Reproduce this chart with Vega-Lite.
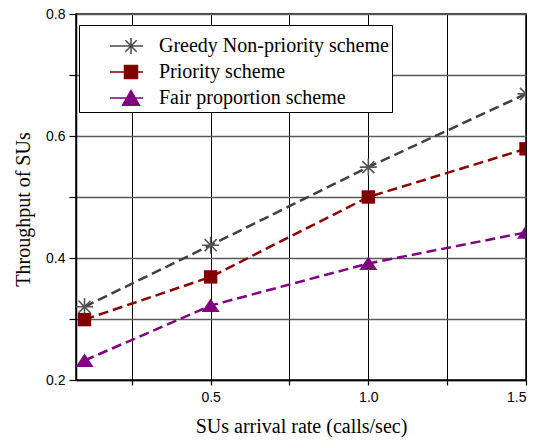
{
  "$schema": "https://vega.github.io/schema/vega-lite/v6.json",
  "width": 450,
  "height": 366,
  "autosize": {"type": "none"},
  "padding": {"left": 76, "top": 14, "right": 13, "bottom": 63},
  "background": "white",
  "data": {
    "values": [
      {"rate": 0.1, "throughput": 0.32, "series": "Greedy Non-priority scheme"},
      {"rate": 0.5, "throughput": 0.421, "series": "Greedy Non-priority scheme"},
      {"rate": 1.0, "throughput": 0.549, "series": "Greedy Non-priority scheme"},
      {"rate": 1.5, "throughput": 0.669, "series": "Greedy Non-priority scheme"},
      {"rate": 0.1, "throughput": 0.299, "series": "Priority scheme"},
      {"rate": 0.5, "throughput": 0.369, "series": "Priority scheme"},
      {"rate": 1.0, "throughput": 0.5, "series": "Priority scheme"},
      {"rate": 1.5, "throughput": 0.579, "series": "Priority scheme"},
      {"rate": 0.1, "throughput": 0.232, "series": "Fair proportion scheme"},
      {"rate": 0.5, "throughput": 0.322, "series": "Fair proportion scheme"},
      {"rate": 1.0, "throughput": 0.391, "series": "Fair proportion scheme"},
      {"rate": 1.5, "throughput": 0.442, "series": "Fair proportion scheme"}
    ]
  },
  "encoding": {
    "x": {
      "field": "rate", "type": "quantitative",
      "scale": {"domain": [0.073, 1.5], "nice": false, "zero": false},
      "axis": {
        "title": "SUs arrival rate (calls/sec)",
        "values": [0.25, 0.5, 0.75, 1.0, 1.25, 1.5],
        "labelExpr": "(abs(datum.value - 0.5) < 0.001 || abs(datum.value - 1) < 0.001 || abs(datum.value - 1.5) < 0.001) ? format(datum.value, '.1f') : ''",
        "grid": true, "gridColor": "#000000", "gridWidth": 1, "gridOpacity": 1,
        "tickSize": 5, "labelPadding": 5, "titlePadding": 12
      }
    },
    "y": {
      "field": "throughput", "type": "quantitative",
      "scale": {"domain": [0.2, 0.8], "nice": false, "zero": false},
      "axis": {
        "title": "Throughput of SUs",
        "values": [0.2, 0.3, 0.4, 0.5, 0.6, 0.7, 0.8],
        "labelExpr": "indexof(['0.2','0.4','0.6','0.8'], format(datum.value, '.1f')) >= 0 ? format(datum.value, '.1f') : ''",
        "grid": true, "gridColor": "#5a5a5a", "gridWidth": 1.5, "gridOpacity": 1,
        "tickSize": 7, "labelPadding": 4, "titlePadding": 12, "titleY": 195
      }
    }
  },
  "layer": [
    {
      "transform": [{"filter": "datum.series === 'Greedy Non-priority scheme'"}],
      "mark": {"type": "line", "strokeDash": [10, 5], "strokeWidth": 2.5, "clip": true, "color": "#404040"}
    },
    {
      "transform": [{"filter": "datum.series === 'Priority scheme'"}],
      "mark": {"type": "line", "strokeDash": [10, 5], "strokeWidth": 2.5, "clip": true, "color": "#8b0000"}
    },
    {
      "transform": [{"filter": "datum.series === 'Fair proportion scheme'"}],
      "mark": {"type": "line", "strokeDash": [10, 5], "strokeWidth": 2.5, "clip": true, "color": "#800080"}
    },
    {
      "transform": [{"filter": "datum.series === 'Greedy Non-priority scheme'"}],
      "mark": {"type": "point", "shape": "M-1,0H1M0,-1V1M-0.707,-0.707L0.707,0.707M-0.707,0.707L0.707,-0.707", "size": 289, "filled": false, "stroke": "#555555", "strokeWidth": 1.6, "opacity": 1, "clip": true}
    },
    {
      "transform": [{"filter": "datum.series === 'Priority scheme'"}],
      "mark": {"type": "point", "shape": "square", "size": 180, "filled": true, "color": "#800000", "opacity": 1, "clip": true}
    },
    {
      "transform": [{"filter": "datum.series === 'Fair proportion scheme'"}],
      "mark": {"type": "point", "shape": "M-1,0.72L1,0.72L0,-0.78Z", "size": 324, "filled": true, "color": "#800080", "opacity": 1, "clip": true}
    },
    {
      "transform": [{"filter": "datum.rate > 100"}],
      "mark": {"type": "point", "strokeWidth": 1.5, "opacity": 1},
      "encoding": {
        "fill": {
          "field": "series", "type": "nominal",
          "scale": {
            "domain": ["Greedy Non-priority scheme", "Priority scheme", "Fair proportion scheme"],
            "range": ["transparent", "#800000", "#800080"]
          },
          "legend": {"orient": "none", "legendX": 3, "legendY": 11, "title": " "}
        },
        "stroke": {
          "field": "series", "type": "nominal",
          "scale": {
            "domain": ["Greedy Non-priority scheme", "Priority scheme", "Fair proportion scheme"],
            "range": ["#4a4a4a", "#800000", "#800080"]
          },
          "legend": {"orient": "none", "legendX": 3, "legendY": 11, "title": " "}
        },
        "shape": {
          "field": "series", "type": "nominal",
          "scale": {
            "domain": ["Greedy Non-priority scheme", "Priority scheme", "Fair proportion scheme"],
            "range": [
              "M2.25,0H6.375M4.875,-1V1M3.875,0H5.875M4.168,-0.707L5.582,0.707M4.168,0.707L5.582,-0.707",
              "M2.25,0H6.375M4.0625,-0.8125H5.6875V0.8125H4.0625Z",
              "M2.25,0H6.375M3.815,0.9L5.935,0.9L4.875,-0.95Z"
            ]
          },
          "legend": {"orient": "none", "legendX": 3, "legendY": 11, "title": " "}
        }
      }
    }
  ],
  "config": {
    "view": {"stroke": "#000000", "strokeWidth": 1.5},
    "axis": {
      "domainColor": "#000000", "domainWidth": 1.5,
      "tickColor": "#000000", "tickWidth": 1.2,
      "labelFont": "Liberation Sans", "labelFontSize": 14, "labelColor": "#000000",
      "titleFont": "Liberation Serif", "titleFontSize": 20, "titleFontWeight": "normal", "titleColor": "#000000"
    },
    "legend": {
      "strokeColor": "#000000", "fillColor": "#ffffff", "padding": 3,
      "labelFont": "Liberation Serif", "labelFontSize": 20, "labelColor": "#000000",
      "labelOffset": 57, "labelLimit": 400,
      "symbolSize": 256, "symbolStrokeWidth": 1.5, "symbolOpacity": 1,
      "rowPadding": 5,
      "titleFontSize": 6, "titlePadding": 2
    }
  }
}
